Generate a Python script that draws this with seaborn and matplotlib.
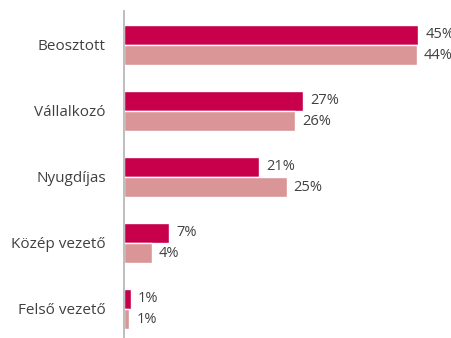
import pandas as pd
import matplotlib.pyplot as plt
import seaborn as sns

categories = ['Beosztott', 'Vállalkozó', 'Nyugdíjas', 'Közép vezető', 'Felső vezető']
# bar lengths, labels as printed
series_a = [44.9, 27.3, 20.6, 6.9, 1.0]
series_b = [44.7, 26.1, 24.8, 4.3, 0.8]
labels_a = ['45%', '27%', '21%', '7%', '1%']
labels_b = ['44%', '26%', '25%', '4%', '1%']
series_names = ['A', 'B']
colors = ['#c8004c', '#da9696']

df = pd.DataFrame({
    'cat': categories * 2,
    'val': series_a + series_b,
    'series': [series_names[0]] * len(categories) + [series_names[1]] * len(categories),
})

sns.set_style('white')
plt.rcParams['font.family'] = ['Open Sans', 'DejaVu Sans']

fig = plt.figure(figsize=(4.51, 3.38), dpi=100)
ax = fig.add_axes([124 / 451, 0, 327 / 451, 327 / 338])

sns.barplot(data=df, y='cat', x='val', hue='series', palette=colors, orient='h',
            saturation=1, width=0.62, edgecolor='white', linewidth=1.0,
            legend=False, ax=ax)

for cont, labs in zip(ax.containers, [labels_a, labels_b]):
    ax.bar_label(cont, labels=labs, padding=5, fontsize=10.5, color='#404040')

ax.set_xlim(0, 49.9)
ax.set_ylim(4.44, -0.515)
ax.set_xlabel('')
ax.set_ylabel('')
ax.set_xticks([])
ax.tick_params(axis='y', length=0, pad=13, labelsize=11, labelcolor='#404040')
for s in ['top', 'right', 'bottom']:
    ax.spines[s].set_visible(False)
ax.spines['left'].set_color('#b8b8b8')
ax.spines['left'].set_linewidth(1.3)

fig.savefig('out.png', dpi=100)
